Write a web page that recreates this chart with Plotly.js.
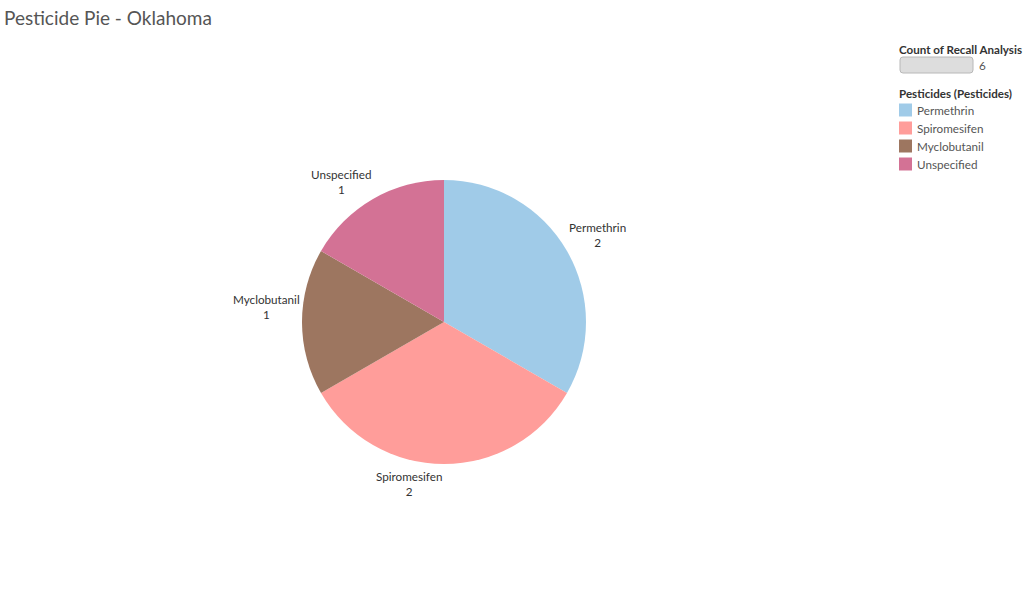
<!DOCTYPE html>
<html>
<head>
<meta charset="utf-8">
<script src="https://cdn.plot.ly/plotly-3.0.1.min.js"></script>
<style>
  html, body { margin: 0; padding: 0; background: #ffffff; }
  #chart { width: 1024px; height: 606px; }
</style>
</head>
<body>
<div id="chart"></div>
<script>
// Recall counts by pesticide (Oklahoma)
const pesticides = ['Permethrin', 'Spiromesifen', 'Myclobutanil', 'Unspecified'];
const recallCounts = [2, 2, 1, 1];
const sliceColors = ['#A0CBE8', '#FF9D9A', '#9D7660', '#D37295'];
const chartTitle = 'Pesticide Pie - Oklahoma';
const sizeLegendTitle = 'Count of Recall Analysis';
const colorLegendTitle = 'Pesticides (Pesticides)';

const W = 1024, H = 606;
const px = x => x / W;
const py = y => 1 - y / H;
const FONT = 'Lato, "Noto Sans", sans-serif';
const TEXT = '#333333';

// Pie geometry in page pixels
const cx = 444, cy = 322, R = 142;

// Label anchor points (page pixels), one per slice
const labelPos = [[597, 235], [409, 483], [266, 306], [341, 182]];

const annotations = [];
const shapes = [];

pesticides.forEach((name, i) => {
  annotations.push({
    xref: 'paper', yref: 'paper',
    x: px(labelPos[i][0]), y: py(labelPos[i][1]),
    xanchor: 'center', yanchor: 'middle',
    text: name + '<br>' + recallCounts[i],
    showarrow: false,
    font: { family: FONT, size: 11.7, color: TEXT }
  });
});

// Size legend: a rounded bar showing the total count
const total = recallCounts.reduce((a, b) => a + b, 0);
annotations.push({
  xref: 'paper', yref: 'paper', x: px(897), y: py(49),
  xanchor: 'left', yanchor: 'middle', showarrow: false,
  text: '<b>' + sizeLegendTitle + '</b>',
  font: { family: FONT, size: 11.6, color: TEXT }
});
{
  const x0 = 900, x1 = 973, y0 = 57, y1 = 73, r = 3;
  shapes.push({
    type: 'path', xref: 'paper', yref: 'paper',
    path: `M ${px(x0 + r)} ${py(y0)} L ${px(x1 - r)} ${py(y0)} ` +
          `Q ${px(x1)} ${py(y0)} ${px(x1)} ${py(y0 + r)} L ${px(x1)} ${py(y1 - r)} ` +
          `Q ${px(x1)} ${py(y1)} ${px(x1 - r)} ${py(y1)} L ${px(x0 + r)} ${py(y1)} ` +
          `Q ${px(x0)} ${py(y1)} ${px(x0)} ${py(y1 - r)} L ${px(x0)} ${py(y0 + r)} ` +
          `Q ${px(x0)} ${py(y0)} ${px(x0 + r)} ${py(y0)} Z`,
    fillcolor: '#dddddd', line: { color: '#b8b8b8', width: 1 }
  });
}
annotations.push({
  xref: 'paper', yref: 'paper', x: px(977), y: py(65),
  xanchor: 'left', yanchor: 'middle', showarrow: false,
  text: String(total),
  font: { family: FONT, size: 11.7, color: '#555555' }
});

// Colour legend
annotations.push({
  xref: 'paper', yref: 'paper', x: px(897), y: py(93),
  xanchor: 'left', yanchor: 'middle', showarrow: false,
  text: '<b>' + colorLegendTitle + '</b>',
  font: { family: FONT, size: 11.6, color: TEXT }
});
pesticides.forEach((name, i) => {
  const yc = 110 + i * 18;
  shapes.push({
    type: 'rect', xref: 'paper', yref: 'paper',
    x0: px(899), x1: px(912), y0: py(yc + 6.5), y1: py(yc - 6.5),
    fillcolor: sliceColors[i], line: { width: 0 }
  });
  annotations.push({
    xref: 'paper', yref: 'paper', x: px(915), y: py(yc),
    xanchor: 'left', yanchor: 'middle', showarrow: false,
    text: name,
    font: { family: FONT, size: 11.7, color: '#555555' }
  });
});

const data = [{
  type: 'pie',
  labels: pesticides,
  values: recallCounts,
  marker: { colors: sliceColors, line: { width: 0 } },
  sort: false,
  direction: 'clockwise',
  rotation: 0,
  textinfo: 'none',
  hoverinfo: 'label+value',
  domain: { x: [px(cx - R), px(cx + R)], y: [py(cy + R), py(cy - R)] }
}];

const layout = {
  width: W, height: H,
  margin: { l: 0, r: 0, t: 0, b: 0 },
  paper_bgcolor: '#ffffff',
  showlegend: false,
  title: {
    text: chartTitle,
    x: px(4), xanchor: 'left', xref: 'paper',
    y: py(18), yanchor: 'middle', yref: 'container',
    font: { family: FONT, size: 19, color: '#555555' }
  },
  annotations: annotations,
  shapes: shapes
};

Plotly.newPlot('chart', data, layout, { displayModeBar: false, staticPlot: true });
</script>
</body>
</html>
